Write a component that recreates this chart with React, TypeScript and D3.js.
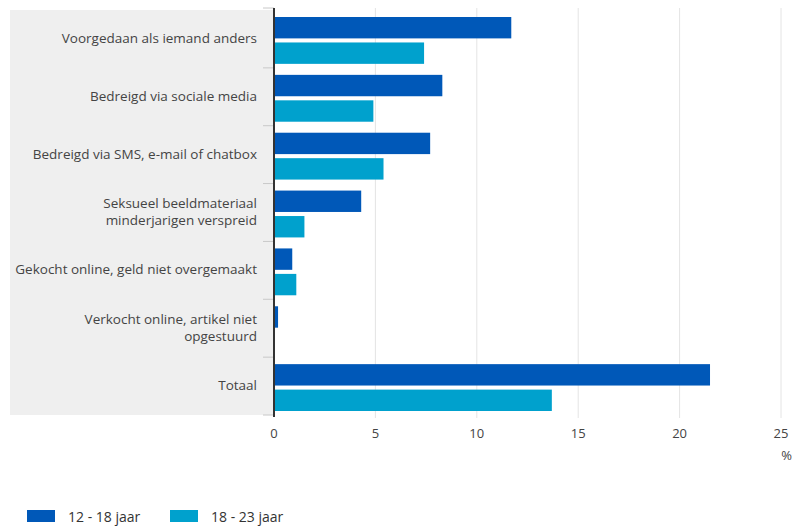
import * as d3 from "d3"

const categories = [
  ["Voorgedaan als iemand anders"],
  ["Bedreigd via sociale media"],
  ["Bedreigd via SMS, e-mail of chatbox"],
  ["Seksueel beeldmateriaal", "minderjarigen verspreid"],
  ["Gekocht online, geld niet overgemaakt"],
  ["Verkocht online, artikel niet", "opgestuurd"],
  ["Totaal"],
]
const seriesNames = ["12 - 18 jaar", "18 - 23 jaar"]
const age12to18 = [11.7, 8.3, 7.7, 4.3, 0.9, 0.2, 21.5]
const age18to23 = [7.4, 4.9, 5.4, 1.5, 1.1, 0, 13.7]
const xTicks = [0, 5, 10, 15, 20, 25]
const colors = ["#0058b8", "#00a1cd"]

const W = 794
const H = 527
const font = "'Open Sans', 'DejaVu Sans', sans-serif"

export default function App() {
  const x = d3.scaleLinear().domain([0, 25]).range([274, 781])
  const keys = categories.map((_, i) => String(i))
  const y = d3.scaleBand().domain(keys).range([10, 415]).paddingInner(0)
  const inner = d3
    .scaleBand()
    .domain(["0", "1"])
    .range([7, y.bandwidth() - 4])
    .paddingInner(0.16)
  const values = [age12to18, age18to23]

  return (
    <div style={{ position: "absolute", left: 0, top: 0 }}>
      <svg width={W} height={H} style={{ display: "block", fontFamily: font }}>
        <rect x={0} y={0} width={W} height={H} fill="#fff" />
        {/* label panel */}
        <rect x={10} y={10} width={264} height={405} fill="#efefef" />
        {/* grid */}
        {xTicks.slice(1).map((t) => (
          <line key={t} x1={x(t)} x2={x(t)} y1={8} y2={418} stroke="#e4e4e4" strokeWidth={1} />
        ))}
        {/* category separators */}
        {[...keys.map((k) => y(k) as number), 415].map((v, i) => (
          <line key={i} x1={263} x2={274} y1={i === 0 ? 8 : v} y2={i === 0 ? 8 : v} stroke="#c8c8c8" />
        ))}
        {/* bars */}
        {values.map((vals, s) =>
          vals.map((v, i) =>
            v > 0 ? (
              <rect
                key={`${s}-${i}`}
                x={x(0)}
                y={(y(keys[i]) as number) + (inner(String(s)) as number)}
                width={x(v) - x(0)}
                height={inner.bandwidth()}
                fill={colors[s]}
              />
            ) : null
          )
        )}
        {/* axis line */}
        <line x1={274} x2={274} y1={8} y2={417} stroke="#333" strokeWidth={2} />
        {/* category labels */}
        {categories.map((lines, i) => {
          const cy = (y(keys[i]) as number) + y.bandwidth() / 2
          const lh = 17
          const start = cy - ((lines.length - 1) * lh) / 2 + 4
          return (
            <text key={i} textAnchor="end" fontSize={13.5} fill="#444">
              {lines.map((l, j) => (
                <tspan key={j} x={257} y={start + j * lh}>
                  {l}
                </tspan>
              ))}
            </text>
          )
        })}
        {/* x tick labels */}
        {xTicks.map((t) => (
          <text key={t} x={x(t)} y={438} textAnchor="middle" fontSize={13} fill="#444">
            {t}
          </text>
        ))}
        <text x={792} y={460} textAnchor="end" fontSize={13} fill="#444">
          %
        </text>
        {/* legend */}
        {seriesNames.map((n, i) => (
          <g key={n} transform={`translate(${27 + i * 143}, 510)`}>
            <rect x={0} y={0} width={28} height={12} fill={colors[i]} />
            <text x={41} y={11.5} fontSize={14} fill="#333">
              {n}
            </text>
          </g>
        ))}
      </svg>
    </div>
  )
}
